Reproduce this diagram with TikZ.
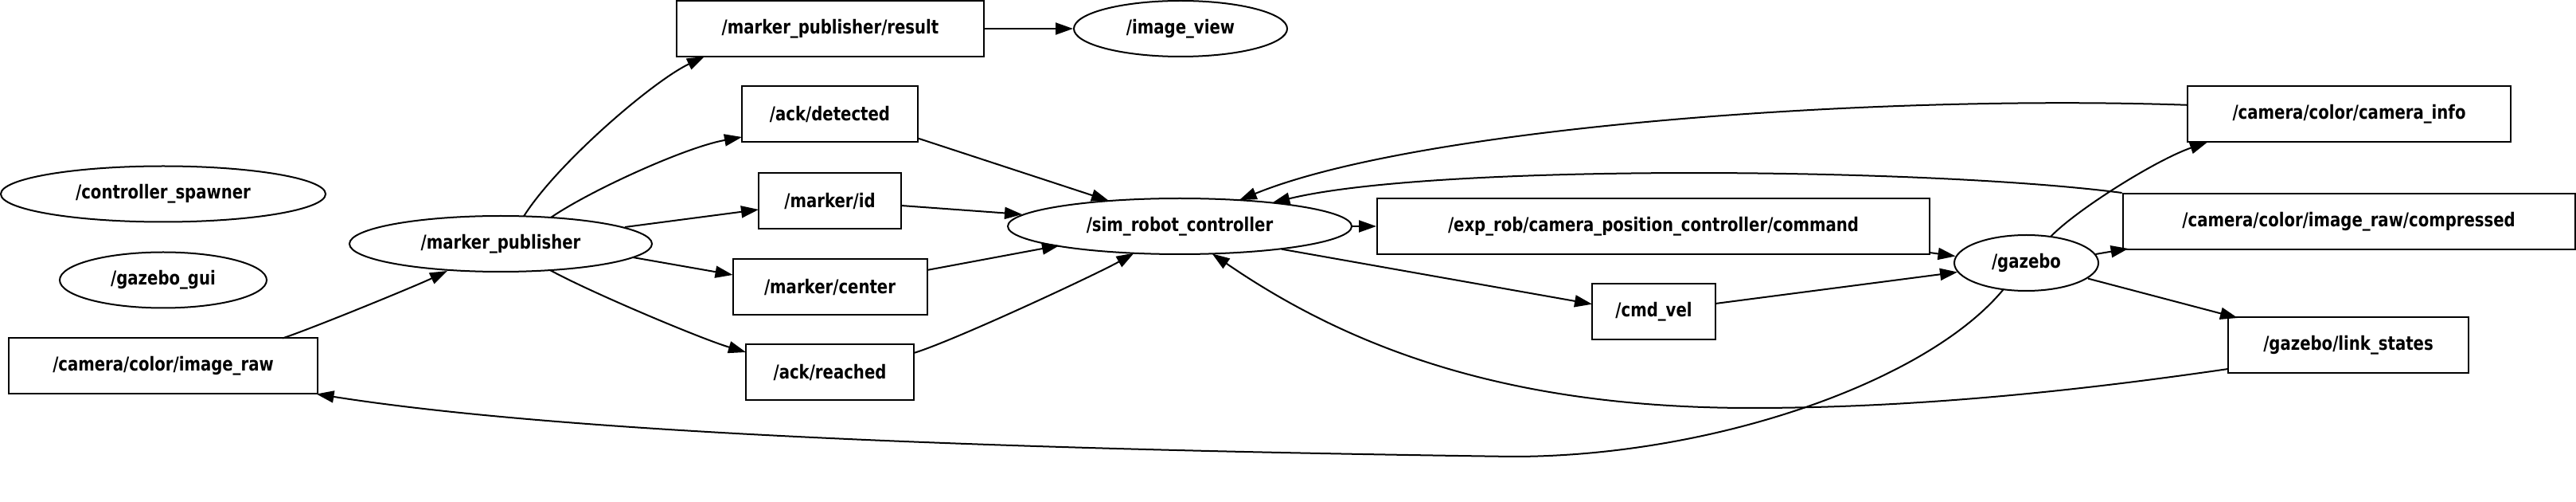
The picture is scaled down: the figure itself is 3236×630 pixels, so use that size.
\documentclass[tikz,border=0pt]{standalone}
\usepackage{fontspec}
\setmainfont{DejaVu Sans}[FakeStretch=0.82]
\usetikzlibrary{shapes.geometric,arrows.meta,calc}
\begin{document}
\begin{tikzpicture}[x=0.5pt,y=-0.5pt,
  every node/.style={font=\fontsize{12}{14}\selectfont\bfseries, line width=1pt, inner sep=0pt},
  topic/.style={draw, rectangle, minimum height=35pt},
  rosnode/.style={draw, ellipse, minimum height=35pt},
  link/.style={line width=1pt, -{Triangle[length=11pt,width=7.5pt]}}]
\useasboundingbox (0,0) rectangle (3236,630);
% nodes
\node[rosnode, minimum width=204pt]   (cs)   at (205,243.5)   {/controller\_spawner};
\node[rosnode, minimum width=130pt]   (gg)   at (205,351.5)   {/gazebo\_gui};
\node[topic,   minimum width=194.25pt](cir)  at (205,459.5)   {/camera/color/image\_raw};
\node[rosnode, minimum width=190pt]   (mp)   at (629,306)     {/marker\_publisher};
\node[topic,   minimum width=193pt]   (res)  at (1043,36)     {/marker\_publisher/result};
\node[rosnode, minimum width=134pt]   (iv)   at (1483,36)     {/image\_view};
\node[topic,   minimum width=110.5pt] (ad)   at (1042.5,143.5){/ack/detected};
\node[topic,   minimum width=89.5pt]  (mid)  at (1042.5,252)  {/marker/id};
\node[topic,   minimum width=122pt]   (mc)   at (1042.5,360)  {/marker/center};
\node[topic,   minimum width=105.5pt] (ar)   at (1042.5,467.5){/ack/reached};
\node[rosnode, minimum width=216pt]   (src)  at (1482,284)    {/sim\_robot\_controller};
\node[topic,   minimum width=347pt]   (exp)  at (2077,284)    {/exp\_rob/camera\_position\_controller/command};
\node[topic,   minimum width=77.5pt]  (cv)   at (2077.5,391.5){/cmd\_vel};
\node[rosnode, minimum width=90.5pt]  (gz)   at (2545.5,330)  {/gazebo};
\node[topic,   minimum width=203pt]   (ci)   at (2951,143.5)  {/camera/color/camera\_info};
\node[topic,   minimum width=284pt]   (comp) at (2950.6,278)  {/camera/color/image\_raw/compressed};
\node[topic,   minimum width=151pt]   (ls)   at (2950,433.5)  {/gazebo/link\_states};
% edges
\draw[link] ($(cir)+(150,-35)$) .. controls (395,411) and (522,359) .. ($(mp)+(-67,34)$);
\draw[link] ($(mp)+(29,-34.6)$) .. controls (700,205) and (820,102) .. ($(res)+(-158,35)$);
\draw[link] ($(mp)+(63,-33)$) .. controls (740,240) and (860,185) .. ($(ad)+(-110.5,28.5)$);
\draw[link] ($(mp)+(156,-21)$) -- ($(mid)+(-89.5,11)$);
\draw[link] ($(mp)+(166,17)$) -- ($(mc)+(-122,-15)$);
\draw[link] ($(mp)+(62,33)$) .. controls (740,366) and (880,425) .. ($(ar)+(-105.5,-25.5)$);
\draw[link] (res.east) -- (iv.west);
\draw[link] ($(ad)+(110.5,30)$) -- ($(src)+(-89,-32)$);
\draw[link] ($(mid)+(89.5,6)$) -- ($(src)+(-198,-15)$);
\draw[link] ($(mc)+(122,-21)$) -- ($(src)+(-151,24)$);
\draw[link] ($(ar)+(105.5,-24.5)$) .. controls (1200,427) and (1380,343) .. ($(src)+(-57.5,33.7)$);
\draw[link] (src.east) -- (exp.west);
\draw[link] ($(src)+(128,28.7)$) -- ($(cv)+(-77.5,-9.8)$);
\draw[link] ($(exp)+(347,33)$) -- ($(gz)+(-89,-8.5)$);
\draw[link] ($(cv)+(77.5,-10.5)$) -- ($(gz)+(-86.5,11.5)$);
\draw[link] ($(ci)+(-203,-11.7)$) .. controls (2350,118) and (1780,160) .. ($(src)+(74.7,-32.8)$);
\draw[link] (comp.north west) .. controls (2420,210) and (1800,205) .. ($(src)+(116.3,-29.5)$);
\draw[link] ($(gz)+(30.5,-33)$) .. controls (2610,262) and (2710,200) .. ($(ci)+(-178,35)$);
\draw[link] ($(gz)+(87,-11)$) -- ($(comp)+(-277,34)$);
\draw[link] ($(gz)+(77.5,19.6)$) -- ($(ls)+(-139,-34.5)$);
\draw[link] ($(ls)+(-151,29.5)$) .. controls (2600,492) and (2400,512) .. (2200,512)
  .. controls (1900,512) and (1700,440) .. ($(src)+(40.7,34.4)$);
\draw[link] ($(gz)+(-28.8,33.2)$) .. controls (2420,480) and (2150,573) .. (1900,573)
  .. controls (1400,566) and (750,550) .. ($(cir)+(192.5,35)$);
\end{tikzpicture}
\end{document}
